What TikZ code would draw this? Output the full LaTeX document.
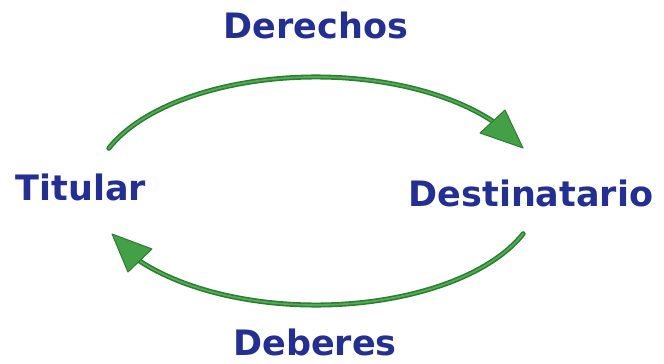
\documentclass[tikz,border=0pt]{standalone}
\usepackage{fontspec}
\setmainfont{DejaVu Sans}
\usetikzlibrary{calc}
\definecolor{navy}{HTML}{232F93}
\definecolor{dkgreen}{HTML}{2E7D32}
\definecolor{ltgreen}{HTML}{4CAF50}
\definecolor{tipgreen}{HTML}{43A047}
\tikzset{
  lbl/.style={anchor=base, inner sep=0pt, text=navy, font=\fontsize{35}{40}\selectfont\bfseries},
  arcouter/.style={draw=dkgreen, line width=5pt, line cap=round},
  arcinner/.style={draw=ltgreen, line width=1.8pt, line cap=round},
  headtri/.style={draw=dkgreen, fill=tipgreen, line width=1pt, line join=round}
}
\begin{document}
\begin{tikzpicture}[x=1pt,y=1pt]
\useasboundingbox (0,0) rectangle (664,-364);
\node[lbl] (der) at (316,-38) {Derechos};
\node[lbl] (tit) at (81,-200) {Titular};
\node[lbl] (des) at (531,-206) {Destinatario};
\node[lbl] (deb) at (315,-355) {Deberes};
% ellipse centre (316,-191), radii 223.5 x 114
\coordinate (c) at (316,-191);
\coordinate (s1) at ($(c)+(158:223.5 and 114)$);
\coordinate (s2) at ($(c)+(338:223.5 and 114)$);
% top arrow head
\coordinate (t1) at (523,-148);
\coordinate (t1a) at (505,-110);
\coordinate (t1b) at (480,-133);
% bottom arrow head
\coordinate (t2) at (112,-234);
\coordinate (t2a) at (152,-249);
\coordinate (t2b) at (128,-272);
\draw[arcouter] (s1) arc[start angle=158, end angle=36, x radius=223.5, y radius=114];
\draw[arcinner] (s1) arc[start angle=158, end angle=38, x radius=223.5, y radius=114];
\draw[arcouter] (s2) arc[start angle=338, end angle=216, x radius=223.5, y radius=114];
\draw[arcinner] (s2) arc[start angle=338, end angle=218, x radius=223.5, y radius=114];
\draw[headtri] (t1) -- (t1a) -- (t1b) -- cycle;
\draw[headtri] (t2) -- (t2a) -- (t2b) -- cycle;
\end{tikzpicture}
\end{document}
